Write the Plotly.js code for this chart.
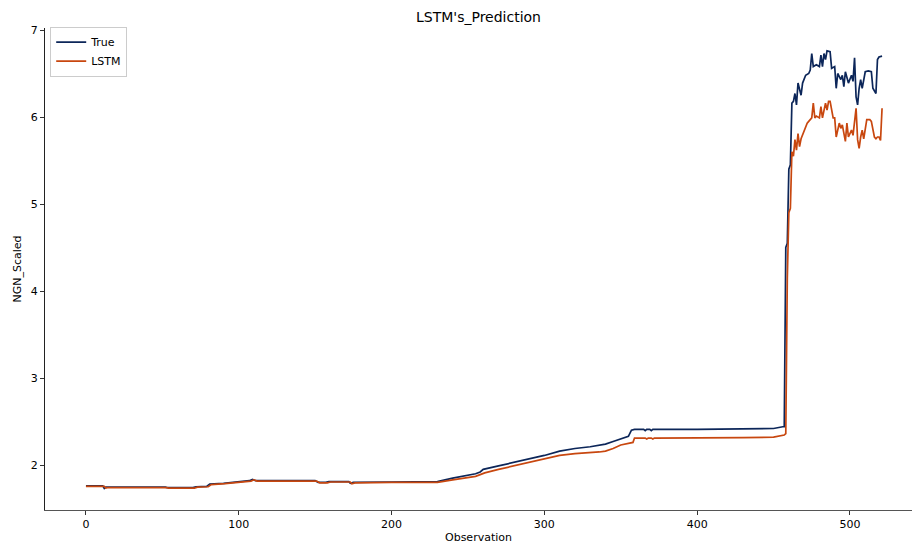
<!DOCTYPE html>
<html>
<head>
<meta charset="utf-8">
<script src="https://cdn.plot.ly/plotly-3.0.1.min.js"></script>
<style>html,body{margin:0;padding:0;background:#fff;}#chart{width:914px;height:544px;}</style>
</head>
<body>
<div id="chart"></div>
<script>
// Observation indices and values (breakpoints of each line)
const trueObs = [0, 11, 12, 13, 52, 53, 70, 72, 79, 81, 90, 100, 107, 109, 111, 150, 152, 157, 159, 165, 172, 173, 175, 200, 230, 240, 250, 255, 258, 260, 270, 280, 290, 300, 310, 320, 330, 336, 340, 345, 350, 355, 357, 359, 365, 366, 367, 369, 370, 371, 400, 430, 450, 456, 457, 458, 459, 460, 461,
  462, 463, 464, 465, 466, 467, 468, 469, 471, 473, 474, 475, 476, 478, 480, 481, 482, 483, 484, 485, 487, 488, 490, 491, 492, 494, 495, 496, 497, 499, 501, 502, 503, 504, 505, 506, 507, 508, 510, 512, 514, 515, 517, 518, 519, 521];
const trueVal = [1.76, 1.76, 1.73, 1.745, 1.745, 1.74, 1.74, 1.75, 1.755, 1.78, 1.79, 1.81, 1.82, 1.835, 1.82, 1.82, 1.80, 1.80, 1.81, 1.81, 1.81, 1.79, 1.80, 1.805, 1.81, 1.85, 1.88, 1.90, 1.92, 1.95, 1.99, 2.03, 2.07, 2.11, 2.16, 2.19, 2.21, 2.23, 2.24, 2.27, 2.30, 2.33, 2.40, 2.41, 2.41, 2.395, 2.41, 2.41, 2.395, 2.41, 2.41, 2.415, 2.42, 2.44, 2.44, 4.50, 4.55, 5.40, 5.45,
  6.16, 6.18, 6.27, 6.14, 6.39, 6.30, 6.25, 6.39, 6.48, 6.50, 6.54, 6.73, 6.58, 6.60, 6.58, 6.71, 6.58, 6.73, 6.66, 6.76, 6.75, 6.56, 6.58, 6.33, 6.50, 6.43, 6.48, 6.35, 6.52, 6.39, 6.48, 6.41, 6.68, 6.23, 6.14, 6.33, 6.43, 6.33, 6.52, 6.53, 6.52, 6.33, 6.27, 6.66, 6.69, 6.70];

const lstmObs = [0, 12, 13, 14, 53, 54, 71, 73, 80, 82, 91, 101, 108, 110, 112, 151, 153, 158, 160, 166, 173, 174, 176, 200, 230, 240, 250, 255, 258, 261, 270, 280, 290, 300, 310, 320, 330, 336, 340, 345, 350, 355, 358, 359, 366, 367, 368, 370, 371, 372, 400, 430, 450, 457, 458, 459, 460, 461,
  462, 463, 464, 465, 466, 467, 468, 470, 472, 473, 475, 476, 477, 478, 480, 481, 482, 484, 485, 486, 487, 489, 490, 491, 493, 494, 495, 497, 498, 499, 501, 502, 504, 505, 506, 507, 508, 509, 511, 513, 514, 516, 517, 518, 519, 520, 521];
const lstmVal = [1.755, 1.755, 1.735, 1.74, 1.74, 1.735, 1.735, 1.745, 1.75, 1.775, 1.785, 1.805, 1.815, 1.83, 1.815, 1.815, 1.795, 1.795, 1.805, 1.805, 1.805, 1.785, 1.795, 1.80, 1.80, 1.83, 1.86, 1.87, 1.89, 1.91, 1.95, 1.99, 2.03, 2.07, 2.11, 2.13, 2.14, 2.15, 2.16, 2.19, 2.23, 2.25, 2.26, 2.31, 2.31, 2.30, 2.31, 2.31, 2.30, 2.31, 2.31, 2.315, 2.32, 2.345, 2.36, 4.15, 4.90, 4.95,
  5.60, 5.55, 5.74, 5.62, 5.81, 5.66, 5.75, 5.85, 5.93, 5.95, 5.99, 6.16, 5.99, 6.01, 5.99, 6.12, 5.99, 6.16, 6.08, 6.18, 6.18, 5.99, 5.99, 5.77, 5.93, 5.87, 5.91, 5.72, 5.93, 5.77, 5.85, 5.79, 6.10, 5.74, 5.64, 5.77, 5.85, 5.75, 5.97, 5.97, 5.95, 5.77, 5.75, 5.77, 5.77, 5.73, 6.10];

const xTicks = [0, 100, 200, 300, 400, 500];
const yTicks = [2, 3, 4, 5, 6, 7];

const traces = [
  {x: trueObs, y: trueVal, type: 'scatter', mode: 'lines', name: 'True',
   line: {color: '#0c2659', width: 1.7}},
  {x: lstmObs, y: lstmVal, type: 'scatter', mode: 'lines', name: 'LSTM',
   line: {color: '#c8470f', width: 1.7}}
];

const layout = {
  width: 914, height: 544,
  paper_bgcolor: '#ffffff', plot_bgcolor: '#ffffff',
  font: {family: 'DejaVu Sans, sans-serif', size: 11, color: '#000'},
  margin: {l: 45, r: 2, t: 28, b: 34, pad: 0},
  title: {text: "LSTM's_Prediction", x: 0.5, xref: 'paper', y: 0.968, yref: 'container', yanchor: 'middle',
          font: {family: 'DejaVu Sans, sans-serif', size: 14, color: '#000'}},
  showlegend: true,
  legend: {x: 0.006, y: 1.003, xanchor: 'left', yanchor: 'top', bgcolor: 'rgba(255,255,255,0.9)',
           bordercolor: '#cccccc', borderwidth: 1, font: {size: 11}, tracegroupgap: 0,
           itemwidth: 30},
  xaxis: {range: [-26.8, 540.6], tickvals: xTicks, ticktext: xTicks.map(String),
          showgrid: false, zeroline: false, showline: true, linecolor: '#555', linewidth: 1,
          ticks: 'outside', ticklen: 4, tickcolor: '#333', automargin: false,
          title: {text: 'Observation', standoff: 4, font: {size: 11}}},
  yaxis: {range: [1.483, 7.023], tickvals: yTicks, ticktext: yTicks.map(String),
          showgrid: false, zeroline: false, showline: true, linecolor: '#222', linewidth: 1,
          ticks: 'outside', ticklen: 4, tickcolor: '#333', automargin: false,
          title: {text: 'NGN_Scaled', standoff: 6, font: {size: 11}}}
};

Plotly.newPlot('chart', traces, layout, {displayModeBar: false, staticPlot: true});
</script>
</body>
</html>
